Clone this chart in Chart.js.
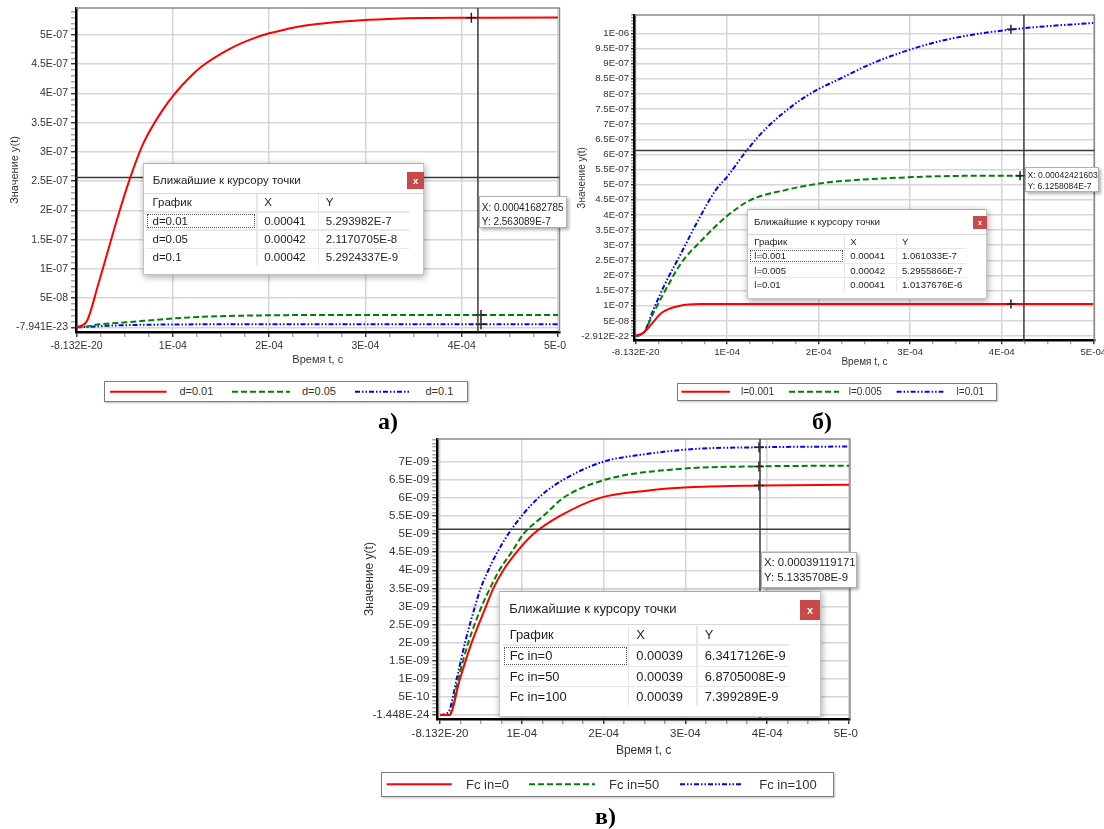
<!DOCTYPE html>
<html><head><meta charset="utf-8">
<script src="https://cdn.jsdelivr.net/npm/chart.js@4.4.1/dist/chart.umd.min.js"></script>
<style>
html,body{margin:0;padding:0;background:#fff;}
body{width:1104px;height:829px;position:relative;overflow:hidden;font-family:"Liberation Sans",Arial,sans-serif;}
.abs{position:absolute;}
.pop{position:absolute;background:#fff;border:1px solid #c4c4c4;border-top:1px solid #86b6e4;box-shadow:1px 2px 7px rgba(0,0,0,0.35);box-sizing:border-box;color:#1e1e1e;}
.cell{position:absolute;background:#fff;white-space:nowrap;overflow:hidden;box-sizing:border-box;color:#1e1e1e;}
.lbl{position:absolute;background:#fff;border:1px solid #b0b0b0;box-shadow:2px 2px 3px rgba(0,0,0,0.3);box-sizing:border-box;color:#1e1e1e;white-space:nowrap;}
.leg{position:absolute;background:#fff;border:1.5px solid #7c7c7c;box-shadow:1px 1px 2px rgba(0,0,0,0.25);box-sizing:border-box;}
.panel{position:absolute;font-family:"Liberation Serif","Times New Roman",serif;font-weight:bold;font-size:24px;line-height:24px;color:#000;}
</style></head>
<body>
<script>
// ---------- common axis ticks ----------
const xTickVals = [-8.132e-20, 1e-4, 2e-4, 3e-4, 4e-4, 5e-4];
const xTickLbls = ['-8.132E-20', '1E-04', '2E-04', '3E-04', '4E-04', '5E-04'];

// ---------- chart a) ----------
const a_yTickVals = [-7.941e-23, 5e-8, 1e-7, 1.5e-7, 2e-7, 2.5e-7, 3e-7, 3.5e-7, 4e-7, 4.5e-7, 5e-7];
const a_yTickLbls = ['-7.941E-23', '5E-08', '1E-07', '1.5E-07', '2E-07', '2.5E-07', '3E-07', '3.5E-07', '4E-07', '4.5E-07', '5E-07'];
const a_names = ['d=0.01', 'd=0.05', 'd=0.1'];
const a_t_1 = [0, 1.07e-5, 2.22e-5, 3.37e-5, 4.33e-5, 5.48e-5, 6.93e-5, 8.93e-5, 1.008e-4, 1.199e-4, 1.295e-4, 1.6e-4, 1.81e-4, 2.0e-4, 2.115e-4, 2.27e-4, 2.5e-4, 2.885e-4, 3.23e-4, 3.61e-4, 4.11e-4, 5.0e-4];
const a_y_1 = [0, 1.08e-8, 7.19e-8, 1.375e-7, 1.918e-7, 2.517e-7, 3.145e-7, 3.715e-7, 3.973e-7, 4.315e-7, 4.457e-7, 4.772e-7, 4.926e-7, 5.029e-7, 5.074e-7, 5.132e-7, 5.188e-7, 5.245e-7, 5.274e-7, 5.29e-7, 5.294e-7, 5.3e-7];
const a_t_2 = [0, 1.0e-5, 2.4e-5, 5.1e-5, 1.0e-4, 1.3e-4, 2.0e-4, 2.7e-4, 5.0e-4];
const a_y_2 = [0, 1.5e-9, 5.1e-9, 8.5e-9, 1.5e-8, 1.8e-8, 2.05e-8, 2.11e-8, 2.12e-8];
const a_t_3 = [0, 1.0e-5, 3.0e-5, 6.0e-5, 1.0e-4, 1.5e-4, 2.5e-4, 5.0e-4];
const a_y_3 = [0, 5e-10, 2.5e-9, 4.0e-9, 4.8e-9, 5.15e-9, 5.28e-9, 5.3e-9];
const a_curX = [0.00041, 0.00042, 0.00042];
const a_curY = [5.293982e-7, 2.1170705e-8, 5.2924337e-9];
const a_curXTxt = ['0.00041', '0.00042', '0.00042'];
const a_curYTxt = ['5.293982E-7', '2.1170705E-8', '5.2924337E-9'];
const a_cursor = [0.00041682785, 2.563089e-7];
const a_cursorTxt = ['X: 0.00041682785', 'Y: 2.563089E-7'];

// ---------- chart б) ----------
const b_yTickVals = [-2.912e-22, 5e-8, 1e-7, 1.5e-7, 2e-7, 2.5e-7, 3e-7, 3.5e-7, 4e-7, 4.5e-7, 5e-7, 5.5e-7, 6e-7, 6.5e-7, 7e-7, 7.5e-7, 8e-7, 8.5e-7, 9e-7, 9.5e-7, 1e-6];
const b_yTickLbls = ['-2.912E-22', '5E-08', '1E-07', '1.5E-07', '2E-07', '2.5E-07', '3E-07', '3.5E-07', '4E-07', '4.5E-07', '5E-07', '5.5E-07', '6E-07', '6.5E-07', '7E-07', '7.5E-07', '8E-07', '8.5E-07', '9E-07', '9.5E-07', '1E-06'];
const b_names = ['l=0.001', 'l=0.005', 'l=0.01'];
const b_t_1 = [0, 0.85e-5, 1.9e-5, 2.85e-5, 4.85e-5, 7.0e-5, 5.0e-4];
const b_y_1 = [0, 1.1e-8, 4.5e-8, 7.7e-8, 1.0e-7, 1.055e-7, 1.061e-7];
const b_t_2 = [0, 0.9e-5, 1.93e-5, 3.07e-5, 4.96e-5, 7.24e-5, 9.89e-5, 1.254e-4, 1.633e-4, 2.011e-4, 2.39e-4, 2.958e-4, 3.337e-4, 4.094e-4, 5.0e-4];
const b_y_2 = [0, 1.1e-8, 7.5e-8, 1.41e-7, 2.4e-7, 3.17e-7, 3.94e-7, 4.49e-7, 4.82e-7, 5.04e-7, 5.15e-7, 5.24e-7, 5.28e-7, 5.296e-7, 5.3e-7];
const b_t_3 = [0, 0.9e-5, 1.93e-5, 3.07e-5, 4.96e-5, 6.85e-5, 8.75e-5, 1.0e-4, 1.216e-4, 1.443e-4, 1.747e-4, 2.011e-4, 2.2e-4, 2.58e-4, 2.996e-4, 3.337e-4, 3.716e-4, 4.094e-4, 4.474e-4, 5.0e-4];
const b_y_3 = [0, 1.1e-8, 8.6e-8, 1.63e-7, 2.73e-7, 3.83e-7, 4.82e-7, 5.26e-7, 6.14e-7, 6.91e-7, 7.68e-7, 8.18e-7, 8.45e-7, 9.0e-7, 9.46e-7, 9.75e-7, 9.97e-7, 1.012e-6, 1.023e-6, 1.034e-6];
const b_curX = [0.00041, 0.00042, 0.00041];
const b_curY = [1.061033e-7, 5.2955866e-7, 1.0137676e-6];
const b_curXTxt = ['0.00041', '0.00042', '0.00041'];
const b_curYTxt = ['1.061033E-7', '5.2955866E-7', '1.0137676E-6'];
const b_cursor = [0.00042421603, 6.1258084e-7];
const b_cursorTxt = ['X: 0.00042421603', 'Y: 6.1258084E-7'];

// ---------- chart в) ----------
const c_yTickVals = [-1.448e-24, 5e-10, 1e-9, 1.5e-9, 2e-9, 2.5e-9, 3e-9, 3.5e-9, 4e-9, 4.5e-9, 5e-9, 5.5e-9, 6e-9, 6.5e-9, 7e-9];
const c_yTickLbls = ['-1.448E-24', '5E-10', '1E-09', '1.5E-09', '2E-09', '2.5E-09', '3E-09', '3.5E-09', '4E-09', '4.5E-09', '5E-09', '5.5E-09', '6E-09', '6.5E-09', '7E-09'];
const c_names = ['Fc in=0', 'Fc in=50', 'Fc in=100'];
const c_t_1 = [0, 1.14e-5, 2.445e-5, 3.87e-5, 5.62e-5, 6.52e-5, 7.74e-5, 9.37e-5, 1.141e-4, 1.467e-4, 1.956e-4, 2.526e-4, 3.097e-4, 3.912e-4, 5.0e-4];
const c_y_1 = [0, 0, 1e-9, 2e-9, 3e-9, 3.5e-9, 4e-9, 4.5e-9, 5e-9, 5.5e-9, 6e-9, 6.2e-9, 6.3e-9, 6.342e-9, 6.36e-9];
const c_t_2 = [0, 1.14e-5, 2.24e-5, 3.46e-5, 5.09e-5, 6.11e-5, 7.25e-5, 8.76e-5, 1.019e-4, 1.264e-4, 1.508e-4, 2.017e-4, 2.934e-4, 3.912e-4, 5.0e-4];
const c_y_2 = [0, 0, 1e-9, 2e-9, 3e-9, 3.5e-9, 4e-9, 4.5e-9, 5e-9, 5.5e-9, 6e-9, 6.5e-9, 6.8e-9, 6.871e-9, 6.89e-9];
const c_t_3 = [0, 1.02e-5, 2.04e-5, 3.06e-5, 4.28e-5, 4.97e-5, 5.91e-5, 7.01e-5, 8.35e-5, 9.98e-5, 1.202e-4, 1.508e-4, 1.997e-4, 2.486e-4, 3.097e-4, 3.912e-4, 5.0e-4];
const c_y_3 = [0, 8e-11, 1e-9, 2e-9, 3e-9, 3.5e-9, 4e-9, 4.5e-9, 5e-9, 5.5e-9, 6e-9, 6.5e-9, 7e-9, 7.2e-9, 7.35e-9, 7.399e-9, 7.42e-9];
const c_curX = [0.00039, 0.00039, 0.00039];
const c_curY = [6.3417126e-9, 6.8705008e-9, 7.399289e-9];
const c_curXTxt = ['0.00039', '0.00039', '0.00039'];
const c_curYTxt = ['6.3417126E-9', '6.8705008E-9', '7.399289E-9'];
const c_cursor = [0.00039119171, 5.1335708e-9];
const c_cursorTxt = ['X: 0.00039119171', 'Y: 5.1335708E-9'];

// ---------- styles ----------
const STY = [
  {color: '#ff0000', dash: []},
  {color: '#008000', dash: [6, 3]},
  {color: '#0000ff', dash: [5, 2, 1.5, 2, 1.5, 2]}
];
const FONT = '"Liberation Sans", Arial, sans-serif';
const POPTITLE = 'Ближайшие к курсору точки';
const HDR = ['График', 'X', 'Y'];

function mkTicks(vals, lbls, minorStep, max) {
  const t = vals.map((v, i) => ({value: v, txt: lbls[i], isMaj: true}));
  for (let k = 1; k * minorStep <= max * 1.0001; k++) {
    const v = k * minorStep;
    if (!vals.some(m => Math.abs(m - v) < minorStep * 0.01)) t.push({value: v, txt: '', isMaj: false});
  }
  t.sort((p, q) => p.value - q.value);
  return t;
}

function buildChart(s) {
  const cv = document.createElement('canvas');
  cv.width = s.cw; cv.height = s.ch;
  cv.style.cssText = `position:absolute;left:${s.cx}px;top:${s.cy}px;width:${s.cw}px;height:${s.ch}px`;
  document.body.appendChild(cv);
  const lh = s.titleSize * 1.2;
  const padLeft = s.yTitleX - s.cx - lh / 2;
  const yW = s.L - s.cx - padLeft;
  const padTop = s.T - s.cy;
  const padRight = s.cx + s.cw - s.R;
  const xH = s.xTitleY - s.B + lh / 2;
  const padBottom = s.cy + s.ch - s.B - xH;

  const datasets = [{
    type: 'line', label: 'cur', showLine: false,
    data: s.curX.map((x, i) => ({x, y: s.curY[i]})),
    pointStyle: 'cross', pointRadius: s.crossR, borderColor: '#222', borderWidth: 1.5, order: 0
  }];
  s.series.forEach((sr, i) => {
    datasets.push({
      type: 'line', label: sr.name,
      data: sr.t.map((t, k) => ({x: t, y: sr.y[k]})),
      borderColor: STY[i].color, borderDash: STY[i].dash, borderWidth: 2,
      pointRadius: 0, fill: false, cubicInterpolationMode: 'monotone', order: 2
    });
  });

  const gridCol = ctx => (ctx.tick && ctx.tick.isMaj) ? '#d6d6d6' : 'rgba(0,0,0,0)';
  const tickCol = ctx => (ctx.tick && ctx.tick.isMaj) ? '#222' : '#9a9a9a';
  const tickFont = {family: FONT, size: s.tickSize};
  const titleFont = {family: FONT, size: s.titleSize};

  const framePlugin = {
    id: 'frame',
    afterDatasetsDraw(chart) {
      const {ctx, chartArea: a, scales} = chart;
      const px = scales.x.getPixelForValue(s.cursor[0]);
      const py = scales.y.getPixelForValue(s.cursor[1]);
      ctx.save();
      ctx.strokeStyle = '#8a8a8a'; ctx.lineWidth = 1.5;
      ctx.beginPath(); ctx.moveTo(a.left, a.top); ctx.lineTo(a.right, a.top); ctx.lineTo(a.right, a.bottom); ctx.stroke();
      ctx.strokeStyle = '#3a3a3a'; ctx.lineWidth = 1.5;
      ctx.beginPath(); ctx.moveTo(px, a.top); ctx.lineTo(px, a.bottom); ctx.moveTo(a.left, py); ctx.lineTo(a.right, py); ctx.stroke();
      ctx.restore();
    }
  };

  new Chart(cv, {
    type: 'line',
    data: {datasets},
    plugins: [framePlugin],
    options: {
      responsive: false, animation: false, devicePixelRatio: 1,
      layout: {padding: {left: padLeft, top: padTop, right: padRight, bottom: padBottom}},
      plugins: {legend: {display: false}, tooltip: {enabled: false}},
      scales: {
        x: {
          type: 'linear', min: s.xMin, max: s.xMax, bounds: 'data',
          afterBuildTicks: sc => { sc.ticks = mkTicks(xTickVals, xTickLbls, 2.5e-5, 5e-4); },
          afterFit: sc => { sc.height = xH; sc.paddingLeft = 0; sc.paddingRight = 0; },
          ticks: {autoSkip: false, maxRotation: 0, minRotation: 0, padding: s.tickPad, font: tickFont, color: '#333',
            callback: (v, i, t) => t[i].txt},
          grid: {color: gridCol, lineWidth: 1.5, tickLength: s.tickLen, tickColor: tickCol, tickWidth: 1.3},
          border: {color: '#000', width: 2.5},
          title: {display: true, text: 'Время t, с', font: titleFont, color: '#333', padding: 0}
        },
        y: {
          type: 'linear', position: 'left', min: s.yMin, max: s.yMax, bounds: 'data',
          afterBuildTicks: sc => { sc.ticks = mkTicks(s.yTickVals, s.yTickLbls, s.yMinor, s.yMax); },
          afterFit: sc => { sc.width = yW; sc.paddingTop = 0; sc.paddingBottom = 0; },
          ticks: {autoSkip: false, padding: s.tickPad, font: tickFont, color: '#333',
            callback: (v, i, t) => t[i].txt},
          grid: {color: gridCol, lineWidth: 1.5, tickLength: s.tickLen, tickColor: tickCol, tickWidth: 1.3},
          border: {color: '#000', width: 2.5},
          title: {display: true, text: 'Значение y(t)', font: titleFont, color: '#333', padding: 0}
        }
      }
    }
  });
}

function el(cls, css, txt) {
  const d = document.createElement('div');
  if (cls) d.className = cls;
  d.style.cssText = css;
  if (txt !== undefined) d.textContent = txt;
  return d;
}

function popup(p) {
  const d = el('pop', `left:${p.x}px;top:${p.y}px;width:${p.w}px;height:${p.h}px;font-family:${FONT};`);
  d.appendChild(el('abs', `left:${p.tx}px;top:${p.ty - p.tfs}px;height:${p.tfs * 2}px;line-height:${p.tfs * 2}px;font-size:${p.tfs}px;color:#1e1e1e;white-space:nowrap;`, POPTITLE));
  d.appendChild(el('abs', `left:0;top:${p.sep}px;width:100%;height:1px;background:#d8d8d8;`));
  const c = p.close;
  d.appendChild(el('abs', `left:${c[0]}px;top:${c[1]}px;width:${c[2]}px;height:${c[3]}px;background:#c9494b;color:#fff;font-size:${c[3] * 0.55}px;line-height:${c[3]}px;text-align:center;font-weight:bold;`, 'x'));
  const x0 = p.cols[0][0], x1 = p.cols[2][0] + p.cols[2][1];
  const y0 = p.rows[0][0], y1 = p.rows[3][0] + p.rows[3][1];
  d.appendChild(el('abs', `left:${x0}px;top:${y0}px;width:${x1 - x0}px;height:${y1 - y0}px;background:#e8e8e8;`));
  const table = [HDR].concat(p.names.map((n, i) => [n, p.xs[i], p.ys[i]]));
  table.forEach((row, r) => row.forEach((txt, k) => {
    const cell = el('cell', `left:${p.cols[k][0]}px;top:${p.rows[r][0]}px;width:${p.cols[k][1]}px;height:${p.rows[r][1]}px;line-height:${p.rows[r][1]}px;font-size:${p.fs}px;padding-left:${p.pad}px;` + (r === 1 && k === 0 ? 'outline:1px dotted #555;outline-offset:-2px;' : ''), txt);
    d.appendChild(cell);
  }));
  document.body.appendChild(d);
}

function cursorLabel(q) {
  const d = el('lbl', `left:${q.x}px;top:${q.y}px;width:${q.w}px;height:${q.h}px;font-family:${FONT};font-size:${q.fs}px;`);
  q.txt.forEach((t, i) => d.appendChild(el('abs', `left:${q.tx}px;top:${q.ly[i] - q.fs * 0.6}px;line-height:${q.fs * 1.2}px;`, t)));
  document.body.appendChild(d);
}

function legend(g) {
  const d = el('leg', `left:${g.x}px;top:${g.y}px;width:${g.w}px;height:${g.h}px;`);
  document.body.appendChild(d);
  const ns = 'http://www.w3.org/2000/svg';
  const svg = document.createElementNS(ns, 'svg');
  svg.setAttribute('width', 1104); svg.setAttribute('height', 829);
  svg.style.cssText = 'position:absolute;left:0;top:0;pointer-events:none;';
  g.items.forEach((it, i) => {
    const ln = document.createElementNS(ns, 'line');
    ln.setAttribute('x1', it[0]); ln.setAttribute('x2', it[1]);
    ln.setAttribute('y1', g.cyl); ln.setAttribute('y2', g.cyl);
    ln.setAttribute('stroke', STY[i].color); ln.setAttribute('stroke-width', 2);
    if (STY[i].dash.length) ln.setAttribute('stroke-dasharray', STY[i].dash.join(','));
    svg.appendChild(ln);
    document.body.appendChild(el('abs', `left:${it[2]}px;top:${g.cyl - g.fs * 0.6}px;line-height:${g.fs * 1.2}px;font-size:${g.fs}px;font-family:${FONT};color:#333;white-space:nowrap;`, g.names[i]));
  });
  document.body.appendChild(svg);
}

// ---------- build ----------
buildChart({
  cx: 0, cy: 0, cw: 566, ch: 372, L: 76, T: 8, R: 562, B: 332, yTitleX: 15, xTitleY: 360,
  titleSize: 11, tickSize: 10.5, tickLen: 5, tickPad: 3, crossR: 5,
  xMin: -6.2e-7, xMax: 5.0155e-4, yMin: -8.04e-9, yMax: 5.462e-7, yMinor: 1e-8,
  yTickVals: a_yTickVals, yTickLbls: a_yTickLbls,
  series: [{name: a_names[0], t: a_t_1, y: a_y_1}, {name: a_names[1], t: a_t_2, y: a_y_2}, {name: a_names[2], t: a_t_3, y: a_y_3}],
  curX: a_curX, curY: a_curY, cursor: a_cursor
});
buildChart({
  cx: 572, cy: 0, cw: 532, ch: 372, L: 634.6, T: 15, R: 1094.4, B: 340.7, yTitleX: 582.5, xTitleY: 362.7,
  titleSize: 10, tickSize: 9.7, tickLen: 3.5, tickPad: 2, crossR: 4.5,
  xMin: -1.09e-6, xMax: 5.012e-4, yMin: -1.553e-8, yMax: 1.0605e-6, yMinor: 1e-8,
  yTickVals: b_yTickVals, yTickLbls: b_yTickLbls,
  series: [{name: b_names[0], t: b_t_1, y: b_y_1}, {name: b_names[1], t: b_t_2, y: b_y_2}, {name: b_names[2], t: b_t_3, y: b_y_3}],
  curX: b_curX, curY: b_curY, cursor: b_cursor
});
buildChart({
  cx: 360, cy: 430, cw: 498, ch: 340, L: 437.3, T: 439, R: 850, B: 719, yTitleX: 370, xTitleY: 751,
  titleSize: 12, tickSize: 11.5, tickLen: 5, tickPad: 3, crossR: 5,
  xMin: -3.3e-6, xMax: 5.0122e-4, yMin: -1.105e-10, yMax: 7.627e-9, yMinor: 1e-10,
  yTickVals: c_yTickVals, yTickLbls: c_yTickLbls,
  series: [{name: c_names[0], t: c_t_1, y: c_y_1}, {name: c_names[1], t: c_t_2, y: c_y_2}, {name: c_names[2], t: c_t_3, y: c_y_3}],
  curX: c_curX, curY: c_curY, cursor: c_cursor
});

popup({x: 143, y: 163, w: 281, h: 112, tx: 8.7, ty: 16, tfs: 11.5, sep: 29, close: [263, 7.7, 17.3, 17.7],
  cols: [[2, 110], [113.7, 60], [175.3, 90]], rows: [[30.3, 16.7], [48.7, 16.6], [67, 17.3], [84.7, 17.3]],
  fs: 11.5, pad: 6.5, names: a_names, xs: a_curXTxt, ys: a_curYTxt});
popup({x: 747.3, y: 209.3, w: 240, h: 90, tx: 5.7, ty: 12, tfs: 9.8, sep: 23.4, close: [224.5, 5.7, 14.4, 13.3],
  cols: [[1, 95], [97, 50.7], [148.7, 69]], rows: [[24.7, 13.3], [39, 13.4], [53.4, 13.3], [67.4, 14]],
  fs: 9.6, pad: 5, names: b_names, xs: b_curXTxt, ys: b_curYTxt});
popup({x: 499.3, y: 590.7, w: 321.3, h: 126, tx: 9, ty: 17, tfs: 13, sep: 32.6, close: [299.5, 8.6, 20.7, 20],
  cols: [[2.4, 125], [129, 66.7], [197.4, 91]], rows: [[34.3, 18.3], [54.3, 20], [75.3, 19], [95.3, 19]],
  fs: 12.9, pad: 7, names: c_names, xs: c_curXTxt, ys: c_curYTxt});

cursorLabel({x: 479.3, y: 196, w: 87.4, h: 32.3, fs: 10, tx: 1.5, ly: [10.5, 24.5], txt: a_cursorTxt});
cursorLabel({x: 1025, y: 166.7, w: 74.3, h: 25, fs: 8.6, tx: 1.5, ly: [7.2, 18.8], txt: b_cursorTxt});
cursorLabel({x: 760.7, y: 551.7, w: 96.6, h: 36.6, fs: 11.3, tx: 2.3, ly: [9.6, 25.3], txt: c_cursorTxt});

legend({x: 104, y: 381, w: 364, h: 21.3, cyl: 391.7, fs: 11, names: a_names,
  items: [[110, 166.5, 179.4], [232, 290, 302], [355, 409, 425.5]]});
legend({x: 677, y: 383, w: 319.5, h: 18, cyl: 391.7, fs: 10, names: b_names,
  items: [[681.4, 730, 741], [789, 839, 848.7], [896.6, 943.4, 956.6]]});
legend({x: 380.7, y: 771.7, w: 453.3, h: 25, cyl: 784.3, fs: 13, names: c_names,
  items: [[386.7, 451.7, 466], [529, 595, 609], [680, 741.7, 759.3]]});

document.body.appendChild(el('panel', 'left:378px;top:409px;', 'а)'));
document.body.appendChild(el('panel', 'left:812px;top:409px;', 'б)'));
document.body.appendChild(el('panel', 'left:595px;top:804px;', 'в)'));
</script>
</body></html>
